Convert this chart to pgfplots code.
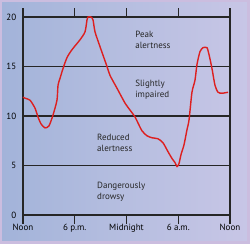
\documentclass[border=0pt]{standalone}
\usepackage{pgfplots}
\pgfplotsset{compat=1.18}
\usepackage{fontspec}
\setmainfont{PT Sans}
\definecolor{c0}{HTML}{8AA1CC}
\definecolor{c1}{HTML}{A2B3D9}
\definecolor{c2}{HTML}{B6BEE0}
\definecolor{c3}{HTML}{C8C6E6}
\definecolor{c4}{HTML}{E4DFEE}
\definecolor{frame}{HTML}{CBBDDF}
\definecolor{curvered}{HTML}{DD1F1F}
\pgfdeclarehorizontalshading{bgshade}{100bp}{color(0bp)=(c0); color(25bp)=(c1); color(50bp)=(c2); color(75bp)=(c3); color(100bp)=(c4)}
\begin{document}
\begin{tikzpicture}
\useasboundingbox (0,0) rectangle (250pt,244pt);
\shade[shading=bgshade] (0,0) rectangle (250pt,244pt);
\draw[frame, line width=2.5pt] (1.25pt,1.25pt) rectangle (248.75pt,242.75pt);
\begin{axis}[
  at={(23pt,29pt)}, anchor=south west,
  width=207pt, height=198pt, scale only axis,
  xmin=0, xmax=24, ymin=0, ymax=20,
  clip=false,
  xtick={0,6,12,18,24},
  xticklabels={Noon,6 p.m.,Midnight,6 a.m.,Noon},
  ytick={0,5,10,15,20},
  ymajorgrids,
  grid style={black!85, line width=1.1pt},
  axis line style={black!85, line width=1.1pt},
  tick align=outside,
  xtick style={black!85, line width=1.1pt, /pgfplots/major tick length=9pt},
  ytick style={draw=none},
  /pgf/number format/assume math mode=true,
  ticklabel style={font=\fontsize{9}{10}\selectfont},
  xticklabel style={yshift=-1pt},
  yticklabel style={xshift=1pt},
]
\addplot[color=curvered, line width=1.4pt, smooth, tension=0.4] coordinates {
(0,11.9) (0.23,11.8) (0.81,11.6) (1.39,10.8) (1.74,9.9) (2.09,9.2) (2.55,8.8) (3.01,9.0) (3.48,10.1) (3.94,11.6) (4.06,13.1) (4.29,13.8) (4.64,14.8) (5.10,15.9) (5.68,16.7) (6.61,17.7) (7.19,18.5) (7.42,19.7) (7.54,20.0) (7.88,20.0) (8.12,19.7) (8.35,18.5) (8.93,17.0) (9.74,15.0) (10.09,14.1) (10.90,12.8) (11.83,11.3) (12.41,10.6) (12.99,9.9) (13.33,9.3) (13.80,8.5) (14.38,8.0) (14.96,7.8) (15.65,7.7) (16.23,7.3) (16.81,6.4) (17.28,5.7) (17.62,5.3) (17.86,4.9) (18.09,5.2) (18.32,6.1) (18.67,7.1) (19.01,8.6) (19.25,9.6) (19.59,12.4) (19.94,13.6) (20.17,15.2) (20.52,16.5) (20.87,16.9) (21.33,16.9) (21.57,16.2) (21.91,14.8) (22.26,13.1) (22.61,12.4) (23.08,12.3) (23.77,12.4)
};
\begin{scope}[every node/.style={anchor=west, align=left, inner sep=0pt, font=\fontsize{9}{11}\selectfont, text=black!85}]
\node at (axis cs:13,17.7) {Peak\\alertness};
\node at (axis cs:13,12.7) {Slightly\\impaired};
\node at (axis cs:8.58,7.3) {Reduced\\alertness};
\node at (axis cs:8.58,2.4) {Dangerously\\drowsy};
\end{scope}
\end{axis}
\end{tikzpicture}
\end{document}
